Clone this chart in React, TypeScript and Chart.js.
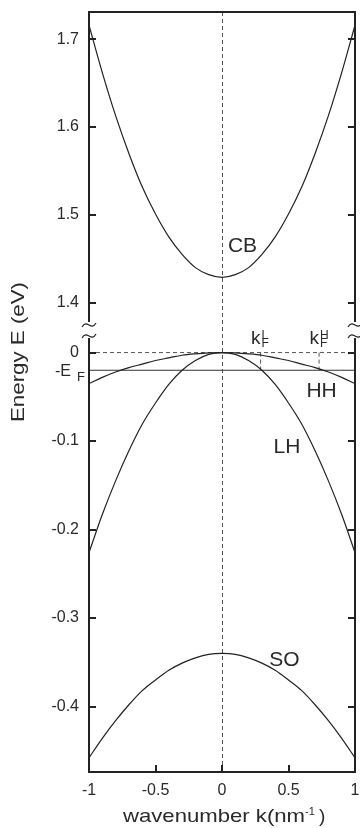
import React, { useEffect, useRef } from 'react';
import { Chart, registerables } from 'chart.js';
Chart.register(...registerables);

// wavenumber k (nm^-1)
const K = [-1, -0.9, -0.8, -0.7, -0.6, -0.5, -0.4, -0.3, -0.2, -0.1, 0, 0.1, 0.2, 0.3, 0.4, 0.5, 0.6, 0.7, 0.8, 0.9, 1];
// energies (eV)
const CB = [1.716, 1.662, 1.613, 1.570, 1.532, 1.501, 1.475, 1.455, 1.440, 1.432, 1.429, 1.432, 1.440, 1.455, 1.475, 1.501, 1.532, 1.570, 1.613, 1.662, 1.716];
const HH = [-0.035, -0.028, -0.022, -0.017, -0.013, -0.009, -0.006, -0.003, -0.0014, -0.0004, 0, -0.0004, -0.0014, -0.003, -0.006, -0.009, -0.013, -0.017, -0.022, -0.028, -0.035];
const LH = [-0.226, -0.183, -0.145, -0.111, -0.081, -0.057, -0.036, -0.020, -0.009, -0.002, 0, -0.002, -0.009, -0.020, -0.036, -0.057, -0.081, -0.111, -0.145, -0.183, -0.226];
const SO = [-0.458, -0.436, -0.416, -0.398, -0.382, -0.370, -0.359, -0.351, -0.345, -0.341, -0.340, -0.341, -0.345, -0.351, -0.359, -0.370, -0.382, -0.398, -0.416, -0.436, -0.458];

const X_TICKS = [-1, -0.5, 0, 0.5, 1];
const Y_TOP_TICKS = [1.4, 1.5, 1.6, 1.7];
const Y_BOTTOM_TICKS = [0, -0.1, -0.2, -0.3, -0.4];
const Y_TOP_RANGE = [1.369, 1.731];
const Y_BOTTOM_RANGE = [-0.474, 0.0255];

const E_F = 0.02;
const KF_L = 0.29;
const KF_H = 0.73;

const BAND_LABELS = [
  { text: 'CB', k: 0.154, e: 1.458, axis: 'yTop' },
  { text: 'HH', k: 0.749, e: -0.0504, axis: 'yBot' },
  { text: 'LH', k: 0.489, e: -0.1138, axis: 'yBot' },
  { text: 'SO', k: 0.47, e: -0.354, axis: 'yBot' },
];

const FONT = '"Liberation Sans", Arial, Helvetica, sans-serif';
const INK = '#222';
const TEXT = '#2a2a2a';

const pts = (ys: number[]) => K.map((k, i) => ({ x: k, y: ys[i] }));

const curve = (label: string, ys: number[], axis: string) => ({
  label,
  data: pts(ys),
  yAxisID: axis,
  borderColor: INK,
  borderWidth: 1.2,
  pointRadius: 0,
  fill: false,
  cubicInterpolationMode: 'monotone' as const,
});

const refLine = (label: string, data: { x: number; y: number }[], dashed: boolean) => ({
  label,
  data,
  yAxisID: 'yBot',
  borderColor: dashed ? '#555' : '#333',
  borderWidth: 1,
  borderDash: dashed ? [4, 3] : [],
  pointRadius: 0,
  fill: false,
  tension: 0,
});

const overlay = {
  id: 'overlay',
  beforeDatasetsDraw(chart: any) {
    const { ctx, chartArea, scales } = chart;
    const x0 = Math.round(scales.x.getPixelForValue(0)) + 0.5;
    ctx.save();
    ctx.strokeStyle = '#555';
    ctx.lineWidth = 1;
    ctx.setLineDash([4, 3]);
    ctx.beginPath();
    ctx.moveTo(x0, chartArea.top);
    ctx.lineTo(x0, chartArea.bottom);
    ctx.stroke();
    ctx.restore();
  },
  afterDraw(chart: any) {
    const { ctx, chartArea, scales } = chart;
    const { left, right, top, bottom } = chartArea;
    const xs = scales.x, yt = scales.yTop, yb = scales.yBot;
    ctx.save();
    // frame
    ctx.strokeStyle = INK;
    ctx.lineWidth = 2;
    ctx.setLineDash([]);
    ctx.strokeRect(left, top, right - left, bottom - top);
    // inward ticks
    ctx.lineWidth = 2;
    ctx.beginPath();
    const yTicks: [any, number[]][] = [[yt, Y_TOP_TICKS], [yb, Y_BOTTOM_TICKS]];
    for (const [sc, vals] of yTicks) {
      for (const v of vals) {
        const py = Math.round(sc.getPixelForValue(v));
        ctx.moveTo(left, py); ctx.lineTo(left + 7, py);
        ctx.moveTo(right, py); ctx.lineTo(right - 7, py);
      }
    }
    for (const v of X_TICKS) {
      const px = Math.round(xs.getPixelForValue(v));
      ctx.moveTo(px, bottom); ctx.lineTo(px, bottom - 7);
    }
    ctx.stroke();
    // axis breaks
    const by = yt.bottom;
    for (const ex of [left, right]) {
      ctx.fillStyle = '#fff';
      ctx.fillRect(ex - 3, by - 8, 6, 16);
      ctx.strokeStyle = INK;
      ctx.lineWidth = 1.2;
      for (const cy of [by - 5, by + 6]) {
        ctx.beginPath();
        ctx.moveTo(ex - 7, cy + 2);
        ctx.bezierCurveTo(ex - 2, cy - 7, ex + 2, cy + 7, ex + 7, cy - 2);
        ctx.stroke();
      }
    }
    // band labels
    ctx.fillStyle = TEXT;
    ctx.font = `21px ${FONT}`;
    ctx.textAlign = 'center';
    ctx.textBaseline = 'alphabetic';
    for (const l of BAND_LABELS) {
      const sc = l.axis === 'yTop' ? yt : yb;
      ctx.fillText(l.text, xs.getPixelForValue(l.k), sc.getPixelForValue(l.e));
    }
    // k_F labels
    const base = yb.getPixelForValue(0) - 9;
    for (const [kf, sup] of [[KF_L, 'L'], [KF_H, 'H']] as [number, string][]) {
      const px = xs.getPixelForValue(kf);
      ctx.font = `19px ${FONT}`;
      ctx.textAlign = 'right';
      ctx.fillText('k', px, base);
      ctx.font = `12px ${FONT}`;
      ctx.textAlign = 'left';
      ctx.fillText(sup, px + 1, base - 5);
      ctx.fillText('F', px + 1, base + 3.5);
    }
    // -E_F label
    const ey = yb.getPixelForValue(-E_F);
    ctx.font = `16px ${FONT}`;
    ctx.textAlign = 'right';
    ctx.fillText('-E', 71, ey + 6);
    ctx.font = `13px ${FONT}`;
    ctx.textAlign = 'left';
    ctx.fillText('F', 77, ey + 11);
    // y title
    ctx.save();
    ctx.translate(23.5, 352);
    ctx.rotate(-Math.PI / 2);
    ctx.font = `19px ${FONT}`;
    const yt1 = 'Energy E (eV)';
    const wy = ctx.measureText(yt1).width;
    ctx.scale(140 / wy, 1);
    ctx.textAlign = 'center';
    ctx.fillText(yt1, 0, 0);
    ctx.restore();
    // x title
    ctx.save();
    ctx.font = `19px ${FONT}`;
    const xt1 = 'wavenumber k(nm';
    const wx = ctx.measureText(xt1).width;
    ctx.translate(123, 821.5);
    ctx.scale(182 / wx, 1);
    ctx.textAlign = 'left';
    ctx.fillText(xt1, 0, 0);
    ctx.restore();
    ctx.font = `11px ${FONT}`;
    ctx.textAlign = 'left';
    ctx.fillText('-1', 305, 815);
    ctx.font = `19px ${FONT}`;
    ctx.fillText(')', 319, 821.5);
    ctx.restore();
  },
};

const noPadY = (s: any) => { s.width = 89; s.paddingTop = 0; s.paddingBottom = 0; };

export default function App() {
  const ref = useRef<HTMLCanvasElement>(null);
  useEffect(() => {
    if (!ref.current) return;
    const tickFont = { family: FONT, size: 16 };
    const chart = new Chart(ref.current, {
      type: 'line',
      data: {
        datasets: [
          curve('CB', CB, 'yTop'),
          curve('HH', HH, 'yBot'),
          curve('LH', LH, 'yBot'),
          curve('SO', SO, 'yBot'),
          refLine('E = 0', [{ x: K[0], y: 0 }, { x: K[K.length - 1], y: 0 }], true),
          refLine('-E_F', [{ x: K[0], y: -E_F }, { x: K[K.length - 1], y: -E_F }], false),
          refLine('k_F^L', [{ x: KF_L, y: 0 }, { x: KF_L, y: -E_F }], true),
          refLine('k_F^H', [{ x: KF_H, y: 0 }, { x: KF_H, y: -E_F }], true),
        ] as any,
      },
      options: {
        responsive: false,
        animation: false,
        devicePixelRatio: 1,
        layout: { padding: { top: 12, right: 5, bottom: 0, left: 0 } },
        plugins: { legend: { display: false }, tooltip: { enabled: false } },
        scales: {
          x: {
            type: 'linear',
            position: 'bottom',
            min: -1,
            max: 1,
            grid: { display: false, drawTicks: false },
            border: { display: false },
            ticks: { font: tickFont, color: TEXT, padding: 9, maxRotation: 0, autoSkip: false, callback: (v: any) => String(v) },
            afterBuildTicks: (s: any) => { s.ticks = X_TICKS.map((v) => ({ value: v })); },
            afterFit: (s: any) => { s.height = 56; s.paddingLeft = 0; s.paddingRight = 0; },
          },
          yBot: {
            type: 'linear',
            position: 'left',
            stack: 'energy',
            stackWeight: 442,
            min: Y_BOTTOM_RANGE[0],
            max: Y_BOTTOM_RANGE[1],
            grid: { display: false, drawTicks: false },
            border: { display: false },
            ticks: { font: tickFont, color: TEXT, padding: 10, autoSkip: false, callback: (v: any) => String(v) },
            afterBuildTicks: (s: any) => { s.ticks = Y_BOTTOM_TICKS.map((v) => ({ value: v })); },
            afterFit: noPadY,
          },
          yTop: {
            type: 'linear',
            position: 'left',
            stack: 'energy',
            stackWeight: 318,
            min: Y_TOP_RANGE[0],
            max: Y_TOP_RANGE[1],
            grid: { display: false, drawTicks: false },
            border: { display: false },
            ticks: { font: tickFont, color: TEXT, padding: 10, autoSkip: false, callback: (v: any) => String(v) },
            afterBuildTicks: (s: any) => { s.ticks = Y_TOP_TICKS.map((v) => ({ value: v })); },
            afterFit: noPadY,
          },
        } as any,
      },
      plugins: [overlay],
    });
    return () => chart.destroy();
  }, []);
  return (
    <div style={{ position: 'fixed', left: 0, top: 0, width: 360, height: 828, background: '#fff' }}>
      <canvas ref={ref} width={360} height={828} />
    </div>
  );
}
